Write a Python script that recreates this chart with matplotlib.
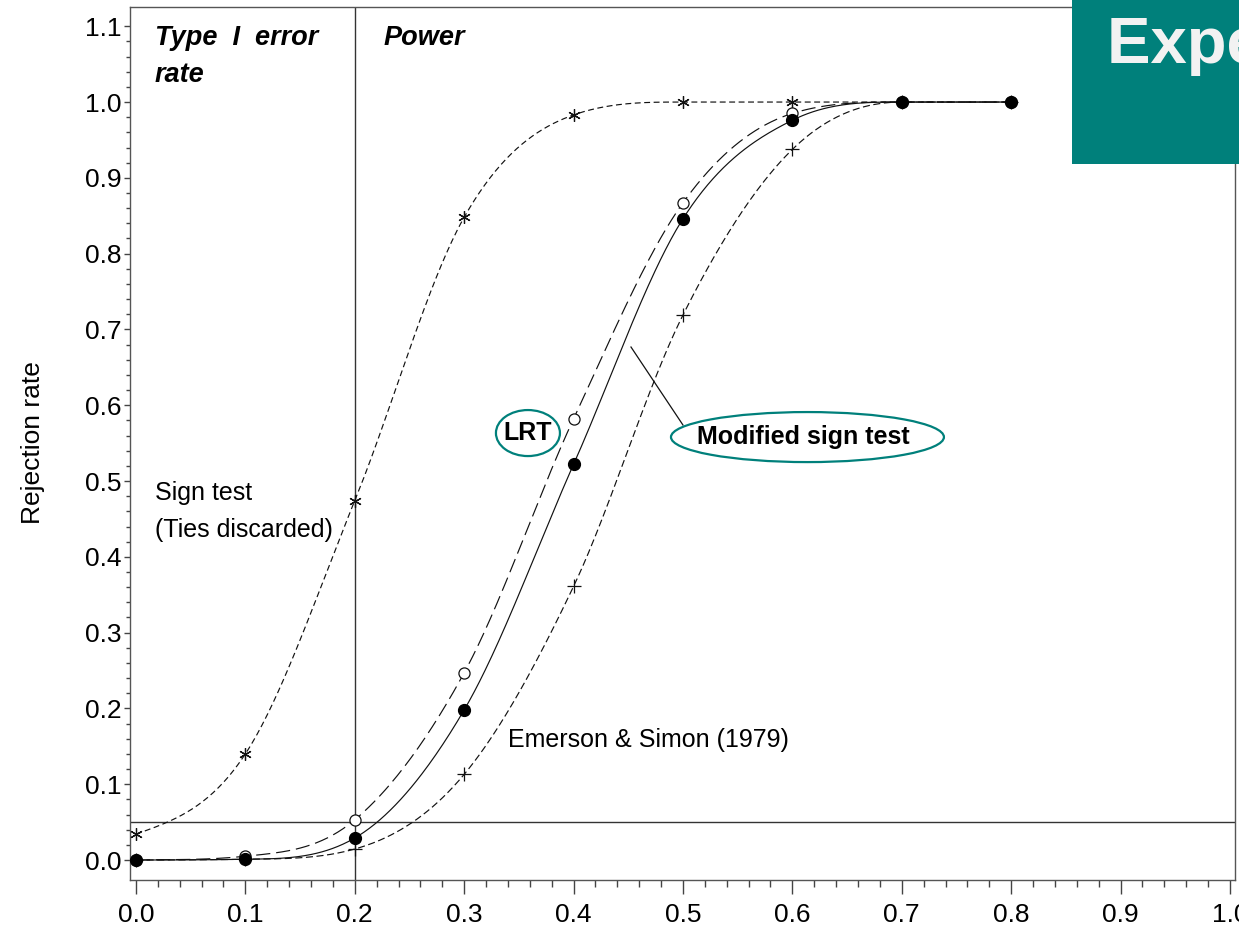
import numpy as np
import matplotlib
matplotlib.use("Agg")
import matplotlib.pyplot as plt
from matplotlib.patches import Ellipse, Rectangle

plt.rcParams['font.family'] = ['Liberation Sans', 'DejaVu Sans']

# ---------------- data ----------------
x_vals = [0.0, 0.1, 0.2, 0.3, 0.4, 0.5, 0.6, 0.7, 0.8]
sign_test = [0.034, 0.140, 0.474, 0.848, 0.983, 1.000, 1.000, 1.000, 1.000]
lrt = [0.000, 0.005, 0.053, 0.247, 0.582, 0.867, 0.985, 1.000, 1.000]
modified_sign = [0.000, 0.001, 0.029, 0.198, 0.522, 0.846, 0.976, 1.000, 1.000]
emerson_simon = [0.000, 0.001, 0.0145, 0.113, 0.361, 0.719, 0.9375, 1.000, 1.000]

x_ticks = [0.0, 0.1, 0.2, 0.3, 0.4, 0.5, 0.6, 0.7, 0.8, 0.9, 1.0]
y_ticks = [0.0, 0.1, 0.2, 0.3, 0.4, 0.5, 0.6, 0.7, 0.8, 0.9, 1.0, 1.1]
alpha_level = 0.05
null_boundary = 0.2


def smooth(x, y, n=500):
    """Smooth monotone cubic Hermite rendering through the given points
    (Catmull-Rom tangents with Fritsch-Carlson limiting)."""
    x = np.asarray(x, float)
    y = np.asarray(y, float)
    h = np.diff(x)
    d = np.diff(y) / h
    m = np.zeros_like(y)
    for k in range(1, len(x) - 1):
        if d[k - 1] * d[k] > 0:
            m[k] = (d[k - 1] + d[k]) / 2
    m[0] = 0.5 * d[0]
    m[-1] = 0.5 * d[-1]
    for k in range(len(d)):
        if d[k] == 0:
            m[k] = 0.0
            m[k + 1] = 0.0
        else:
            a = m[k] / d[k]
            b = m[k + 1] / d[k]
            s = a * a + b * b
            if s > 9:
                t = 3 / np.sqrt(s)
                m[k] = t * a * d[k]
                m[k + 1] = t * b * d[k]
    xs = np.linspace(x[0], x[-1], n)
    idx = np.clip(np.searchsorted(x, xs) - 1, 0, len(x) - 2)
    t = (xs - x[idx]) / h[idx]
    h00 = 2 * t**3 - 3 * t**2 + 1
    h10 = t**3 - 2 * t**2 + t
    h01 = -2 * t**3 + 3 * t**2
    h11 = t**3 - t**2
    ys = h00 * y[idx] + h10 * h[idx] * m[idx] + h01 * y[idx + 1] + h11 * h[idx] * m[idx + 1]
    return xs, ys


W, H = 1239, 933
fig = plt.figure(figsize=(W / 100, H / 100), dpi=100)
ax = fig.add_axes([129.5 / W, 1 - 879.5 / H, (1235 - 129.5) / W, (879.5 - 7.3) / H])

ax.set_xlim(-0.0059, 1.0046)
ax.set_ylim(-0.0257, 1.125)

lc = '#111111'
lw = 0.85

# reference lines
ax.axvline(null_boundary, color='#333333', lw=1.0, zorder=1)
ax.axhline(alpha_level, color='#333333', lw=1.0, zorder=1)

# sign test
xs, ys = smooth(x_vals, sign_test)
ax.plot(xs, ys, color=lc, lw=lw, ls=(0, (5, 3)), zorder=2)
ax.plot(x_vals, sign_test, ls='none', marker=(6, 2, 0), ms=9, mec=lc, mew=0.9, zorder=3)

# Emerson & Simon
xs, ys = smooth(x_vals, emerson_simon)
ax.plot(xs, ys, color=lc, lw=lw, ls=(0, (6, 3)), zorder=2)
ax.plot(x_vals, emerson_simon, ls='none', marker='+', ms=10, mec=lc, mew=0.9, zorder=3)

# LRT
xs, ys = smooth(x_vals, lrt)
ax.plot(xs, ys, color=lc, lw=lw, ls=(0, (12, 5)), zorder=2)
ax.plot(x_vals, lrt, ls='none', marker='o', ms=8, mfc='white', mec=lc, mew=0.9, zorder=4)

# modified sign test
xs, ys = smooth(x_vals, modified_sign)
ax.plot(xs, ys, color=lc, lw=lw, ls='-', zorder=2)
ax.plot(x_vals, modified_sign, ls='none', marker='o', ms=8.5, mfc='black', mec='black', zorder=5)

# axes styling
for s in ax.spines.values():
    s.set_color('#555555')
    s.set_linewidth(1.0)

ax.set_xticks(x_ticks)
ax.set_xticklabels([f"{v:.1f}" for v in x_ticks])
ax.set_yticks(y_ticks)
ax.set_yticklabels([f"{v:.1f}" for v in y_ticks])
ax.set_xticks(np.arange(0, 1.001, 0.02), minor=True)
ax.set_yticks(np.arange(0, 1.101, 0.02), minor=True)
ax.tick_params(axis='x', which='major', length=10, width=1.0, color='#444444',
               labelsize=19, pad=7, direction='out')
ax.tick_params(axis='x', which='minor', length=5, width=1.0, color='#444444', direction='out')
ax.tick_params(axis='y', which='major', length=4.5, width=1.0, color='#444444',
               labelsize=19, pad=1.5, direction='out')
ax.tick_params(axis='y', which='minor', length=3, width=1.0, color='#444444', direction='out')

fig.text(33 / W, 1 - 443 / H, 'Rejection rate', rotation=90, ha='center', va='center', fontsize=19)

# annotations
ax.text(0.017, 1.075, 'Type  I  error', fontsize=19.5, fontweight='bold', fontstyle='italic',
        ha='left', va='baseline')
ax.text(0.017, 1.026, 'rate', fontsize=19.5, fontweight='bold', fontstyle='italic',
        ha='left', va='baseline')
ax.text(0.226, 1.075, 'Power', fontsize=19.5, fontweight='bold', fontstyle='italic',
        ha='left', va='baseline')

ax.text(0.017, 0.475, 'Sign test', fontsize=18, ha='left', va='baseline')
ax.text(0.017, 0.426, '(Ties discarded)', fontsize=18, ha='left', va='baseline')
ax.text(0.340, 0.1495, 'Emerson & Simon (1979)', fontsize=18, ha='left', va='baseline')

teal = '#00807b'
ax.text(0.3583, 0.5633, 'LRT', fontsize=18, fontweight='bold', ha='center', va='center')
ax.add_patch(Ellipse((0.3583, 0.5633), 0.0585, 0.0607, fill=False, ec=teal, lw=1.6, zorder=6))

ax.text(0.513, 0.558, 'Modified sign test', fontsize=18, fontweight='bold', ha='left', va='center')
ax.add_patch(Ellipse((0.6138, 0.558), 0.2495, 0.066, fill=False, ec=teal, lw=1.6, zorder=6))
ax.plot([0.4525, 0.5], [0.6768, 0.5739], color=lc, lw=0.9, zorder=2)

# teal title block
fig.patches.append(Rectangle((1072 / W, 1 - 164 / H), 1 - 1072 / W, 164 / H,
                             transform=fig.transFigure, facecolor=teal, edgecolor='none', zorder=10))
fig.text(1107 / W, 1 - 63 / H, 'Experimental results', fontsize=47, fontweight='bold',
         color='#f2f2f2', ha='left', va='baseline', zorder=11)

fig.savefig('out.png', dpi=100)
